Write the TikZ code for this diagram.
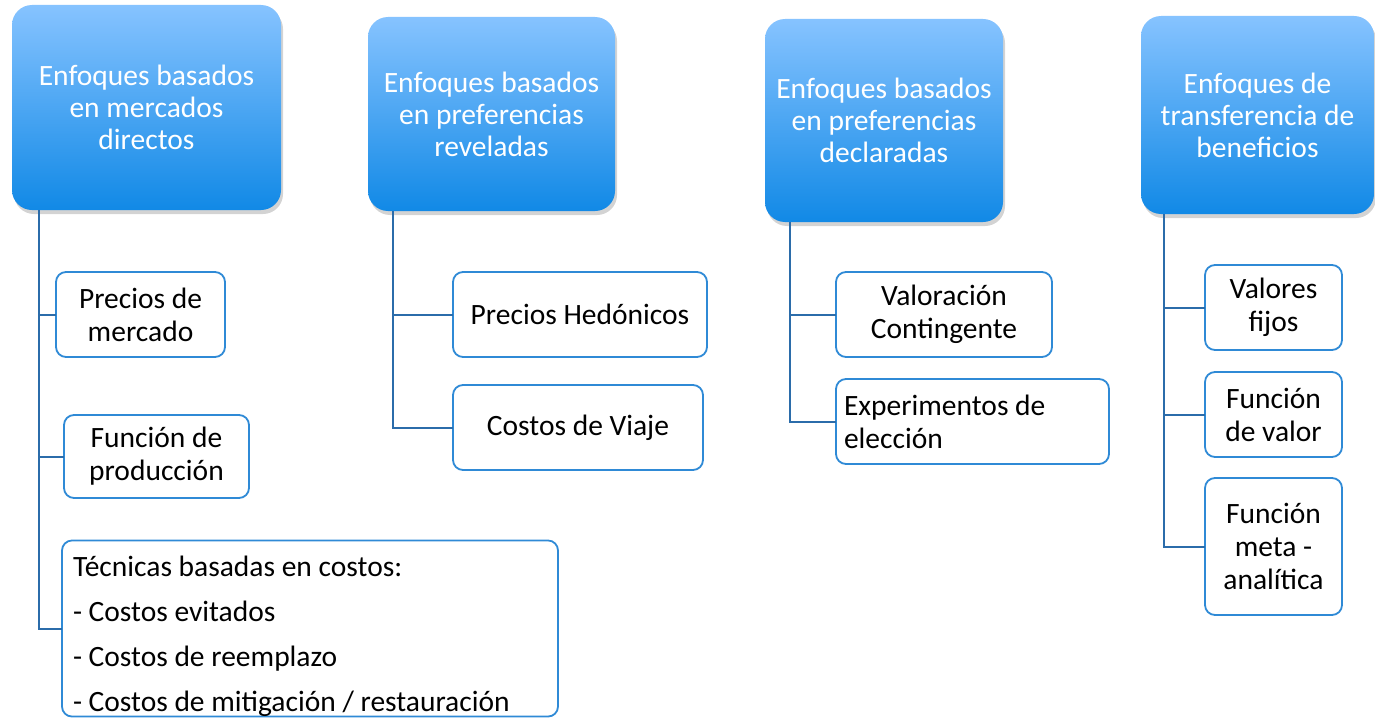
\documentclass[tikz,border=0pt]{standalone}
\usepackage{fontspec}
\setmainfont{Carlito}
\usetikzlibrary{shadows}
\definecolor{headtop}{HTML}{86C3FF}
\definecolor{headbot}{HTML}{1189E6}
\definecolor{boxline}{HTML}{2F8AD6}
\definecolor{treeline}{HTML}{2B6CAA}
\tikzset{
  header/.style={rounded corners=20pt,top color=headtop,bottom color=headbot,
    text=white,align=center,inner sep=0pt,outer sep=0pt,
    font=\fontsize{29.5}{32}\selectfont,
    drop shadow={shadow xshift=2pt,shadow yshift=-4pt,opacity=0.35}},
  leaf/.style={rounded corners=10pt,draw=boxline,line width=1.8pt,fill=white,
    align=center,inner sep=0pt,outer sep=0pt,font=\fontsize{29.5}{33}\selectfont},
  link/.style={treeline,line width=2pt}
}
\begin{document}
\begin{tikzpicture}[x=1pt,y=-1pt]
  \useasboundingbox (0,0) rectangle (1375,717);
  \node[header,minimum width=269pt,minimum height=205pt] (h1) at (146.5,107.5)
    {Enfoques basados\\en mercados\\directos};
  \node[header,minimum width=247pt,minimum height=194pt] (h2) at (491.5,114)
    {Enfoques basados\\en preferencias\\reveladas};
  \node[header,minimum width=238pt,minimum height=203pt] (h3) at (884,120.5)
    {Enfoques basados\\en preferencias\\declaradas};
  \node[header,minimum width=233pt,minimum height=198pt] (h4) at (1257.5,115)
    {Enfoques de\\transferencia de\\beneficios};

  \node[leaf,minimum width=169pt,minimum height=85pt] (m1) at (140.5,314.5)
    {Precios de\\mercado};
  \node[leaf,minimum width=185pt,minimum height=83pt] (m2) at (156.5,456.5)
    {Función de\\producción};
  \node[leaf,minimum width=496pt,minimum height=175pt,text width=474pt,align=flush left,
    font=\fontsize{29.5}{45}\selectfont] (m3) at (310,628.5)
    {\rule{0pt}{36pt}Técnicas basadas en costos:\\- Costos evitados\\- Costos de reemplazo\\- Costos de mitigación / restauración};

  \node[leaf,minimum width=254pt,minimum height=85pt] (r1) at (580,314.5)
    {Precios Hedónicos};
  \node[leaf,minimum width=250pt,minimum height=85pt] (r2) at (578,427.5)
    {Costos de Viaje};

  \node[leaf,minimum width=216pt,minimum height=85pt] (d1) at (944,314.5)
    {Valoración\\Contingente};
  \node[leaf,minimum width=273pt,minimum height=85pt,text width=257pt,align=flush left] (d2) at (972.5,421.5)
    {Experimentos de\\elección};

  \node[leaf,minimum width=137pt,minimum height=85pt] (t1) at (1273.5,307.5)
    {Valores\\fijos};
  \node[leaf,minimum width=137pt,minimum height=85pt] (t2) at (1273.5,414.5)
    {Función\\de valor};
  \node[leaf,minimum width=137pt,minimum height=137pt] (t3) at (1273.5,546.5)
    {Función\\meta -\\analítica};

  \coordinate (s1) at (39,210);
  \coordinate (s2) at (393,211);
  \coordinate (s3) at (790,222);
  \coordinate (s4) at (1164,214);
  \foreach \k in {m1,m2,m3} \draw[link] (s1) |- (\k.west);
  \foreach \k in {r1,r2} \draw[link] (s2) |- (\k.west);
  \foreach \k in {d1,d2} \draw[link] (s3) |- (\k.west);
  \foreach \k in {t1,t2,t3} \draw[link] (s4) |- (\k.west);
\end{tikzpicture}
\end{document}
